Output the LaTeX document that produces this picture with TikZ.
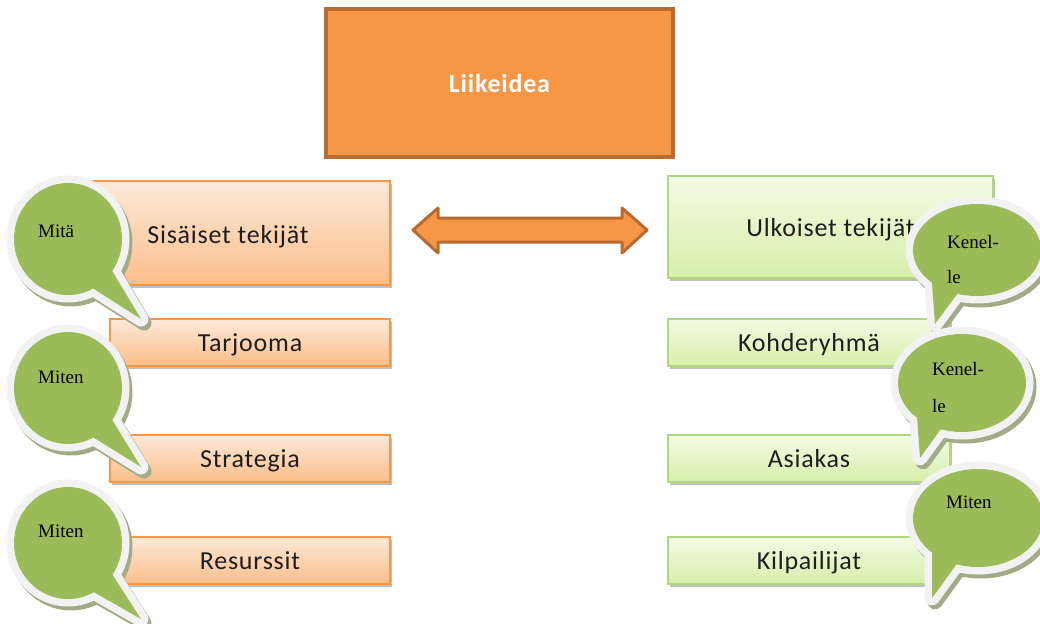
\documentclass[tikz,border=0pt]{standalone}
\usepackage{fontspec}
\setmainfont{Liberation Serif}
\newfontfamily\boxfont[LetterSpace=3]{Carlito}
\usetikzlibrary{shadows}
\definecolor{orfill}{HTML}{F79646}
\definecolor{ordraw}{HTML}{B86B30}
\definecolor{obtop}{HTML}{FDE9D9}
\definecolor{obbot}{HTML}{FBBE8A}
\definecolor{gbtop}{HTML}{F3FBE4}
\definecolor{gbbot}{HTML}{D6EFAA}
\definecolor{gbdraw}{HTML}{B3D77E}
\definecolor{bgreen}{HTML}{9BBB59}
\definecolor{bring}{HTML}{F2F2F2}
\definecolor{bshadow}{HTML}{A2AB88}
\definecolor{txt}{HTML}{1E1E1E}
\newcommand{\speechbubble}[6]{%
  \begin{scope}[shift={(3,4)}]
    \path[fill=bshadow, draw=bshadow, line width=15pt, line join=round] (#1) ellipse [x radius=#2, y radius=#3];
    \path[fill=bshadow, draw=bshadow, line width=15pt, line join=round] (#4) -- (#5) -- (#6) -- cycle;
  \end{scope}
  \path[fill=bring, draw=bring, line width=15pt, line join=round] (#1) ellipse [x radius=#2, y radius=#3];
  \path[fill=bring, draw=bring, line width=15pt, line join=round] (#4) -- (#5) -- (#6) -- cycle;
  \fill[bgreen] (#1) ellipse [x radius=#2, y radius=#3];
  \fill[bgreen] (#4) -- (#5) -- (#6) -- cycle;
}
\begin{document}
\begin{tikzpicture}[x=1pt, y=-1pt,
  boxshadow/.style={drop shadow={shadow xshift=2pt, shadow yshift=-3pt, opacity=0.25, fill=black}},
  obox/.style={rectangle, draw=orfill, line width=1.5pt, top color=obtop, bottom color=obbot, boxshadow, inner sep=0pt},
  gbox/.style={rectangle, draw=gbdraw, line width=1.5pt, top color=gbtop, bottom color=gbbot, boxshadow, inner sep=0pt},
  boxtext/.style={font=\boxfont\fontsize{26}{30}\selectfont, text=txt, inner sep=0pt, text depth=0pt},
  btext/.style={font=\fontsize{19}{22}\selectfont, text=black, inner sep=0pt, anchor=base west},
  big/.style={draw=ordraw, fill=orfill, line width=3.5pt, minimum width=347pt, minimum height=148pt,
    font=\boxfont\bfseries\fontsize{26}{30}\selectfont, text=white}
]
\useasboundingbox (0,0) rectangle (1040,623);

% top box
\node[big] (lk) at (499.5,83) {Liikeidea};

% left boxes
\node[obox, minimum width=302pt, minimum height=104pt] (sis) at (239,233) {};
\node[boxtext] (sist) at (228,234) {Sisäiset tekijät};
\node[obox, boxtext, minimum width=280pt, minimum height=47pt] (tar) at (250,342.5) {Tarjooma};
\node[obox, boxtext, minimum width=280pt, minimum height=47pt] (str) at (250,458.5) {Strategia};
\node[obox, boxtext, minimum width=280pt, minimum height=47pt] (res) at (250,560.5) {Resurssit};

% right boxes
\node[gbox, boxtext, minimum width=325pt, minimum height=102pt] (ulk) at (830.5,227) {Ulkoiset tekijät};
\node[gbox, boxtext, minimum width=282pt, minimum height=47pt] (koh) at (809,342.5) {Kohderyhmä};
\node[gbox, boxtext, minimum width=282pt, minimum height=47pt] (asi) at (809,458.5) {Asiakas};
\node[gbox, boxtext, minimum width=282pt, minimum height=47pt] (kil) at (809,560.5) {Kilpailijat};

% double arrow
\path[fill=orfill, draw=ordraw, line width=3pt, line join=round]
  (413,230) -- (438,208) -- (438,218) -- (622,218) -- (622,208) -- (647,230)
  -- (622,253) -- (622,242) -- (438,242) -- (438,253) -- cycle;

% left bubbles
\speechbubble{68,239}{54}{56}{105,259}{83,282}{141,319}
\node[btext] (b1) at (38,237) {Mitä};
\speechbubble{68,388}{54}{56}{105,408}{83,431}{141,467}
\node[btext] (b2) at (38,383) {Miten};
\speechbubble{68,543}{54}{56}{105,563}{83,586}{141,619}
\node[btext] (b3) at (38,537) {Miten};

% right bubbles
\speechbubble{977,250}{64}{46}{931,270}{966,282}{935,324}
\node[btext] (r1a) at (947,248) {Kenel-};
\node[btext] (r1b) at (947,283) {le};
\speechbubble{962,383}{64}{49}{916,403}{951,415}{920,458}
\node[btext] (r2a) at (932,375) {Kenel-};
\node[btext] (r2b) at (932,412) {le};
\speechbubble{978,518}{65}{49}{932,538}{967,550}{932,598}
\node[btext] (r3) at (946,508) {Miten};
\end{tikzpicture}
\end{document}
